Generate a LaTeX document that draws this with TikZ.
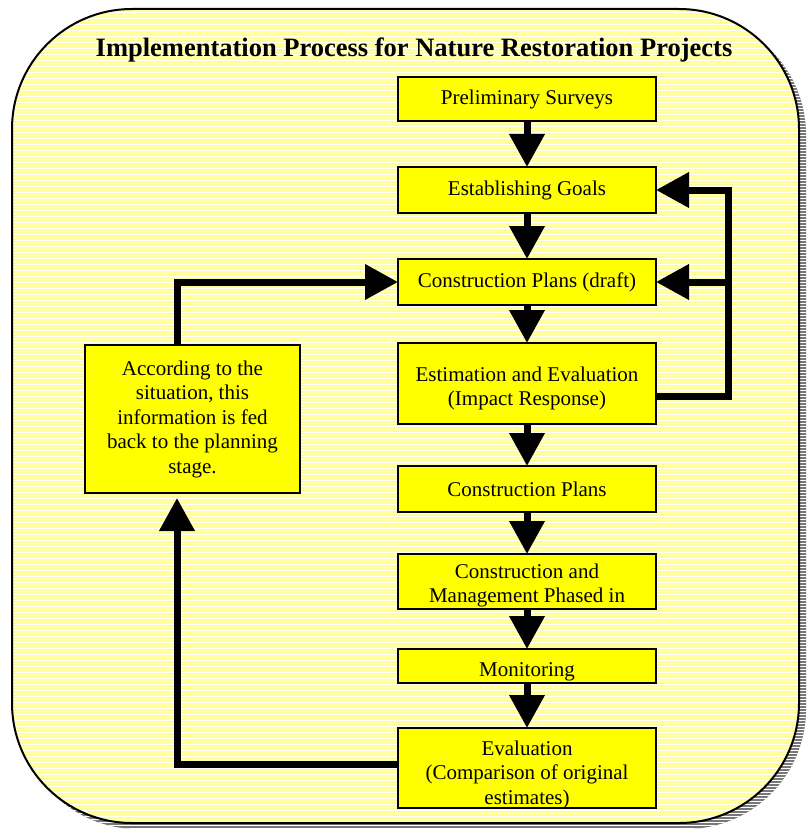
\documentclass[tikz,border=0pt]{standalone}
\usepackage{fontspec}
\setmainfont{Liberation Serif}
\usetikzlibrary{arrows.meta,patterns}
\definecolor{stageyellow}{RGB}{255,255,0}
\definecolor{paneyellow}{RGB}{255,255,150}
\definecolor{panegray}{RGB}{120,120,120}
\newcommand{\lowered}[2]{\raisebox{-#1}[\height][\depth]{\begin{tabular}{@{}c@{}}#2\end{tabular}}}

\begin{document}
\begin{tikzpicture}[x=1pt, y=-1pt,
    stage/.style={draw=black, line width=1.5pt, fill=stageyellow, inner sep=0pt, outer sep=0pt,
        minimum width=258pt, align=center, font=\fontsize{21}{24.5}\selectfont},
    flow/.style={line width=7pt, -{Triangle[length=33pt,width=34pt]}},
    stripes/.style={pattern=horizontal lines, pattern color=white}]
    \useasboundingbox (0,0) rectangle (806,829);

    % shadow
    \fill[panegray, rounded corners=120pt] (18,15) rectangle (806,829);
    \fill[stripes, rounded corners=120pt] (18,15) rectangle (806,829);

    % panel
    \fill[paneyellow, rounded corners=120pt] (12,9) rectangle (799,823);
    \fill[stripes, rounded corners=120pt] (12,9) rectangle (799,823);
    \draw[line width=2pt, rounded corners=120pt] (12,9) rectangle (799,823);

    \node[font=\fontsize{26.5}{30}\selectfont\bfseries] (title) at (414,49.5)
        {Implementation Process for Nature Restoration Projects};

    % main column
    \node[stage, minimum height=44pt] (prelim) at (527,99) {Preliminary Surveys};
    \node[stage, minimum height=46pt] (goals) at (527,190) {Establishing Goals};
    \node[stage, minimum height=46pt] (draft) at (527,282) {Construction Plans (draft)};
    \node[stage, minimum height=81pt] (estim) at (527,383.5)
        {\lowered{5pt}{Estimation and Evaluation\\(Impact Response)}};
    \node[stage, minimum height=46pt] (plans) at (527,489) {Construction Plans};
    \node[stage, minimum height=55pt] (build) at (527,581.5)
        {\lowered{4pt}{Construction and\\Management Phased in}};
    \node[stage, minimum height=34pt] (monit) at (527,666) {\lowered{6pt}{Monitoring}};
    \node[stage, minimum height=80pt] (evalu) at (527,768)
        {\lowered{7pt}{Evaluation\\(Comparison of original\\estimates)}};

    % side box
    \node[stage, minimum width=215pt, minimum height=148pt] (feedback) at (192.5,419)
        {According to the\\situation, this\\information is fed\\back to the planning\\stage.};

    \draw[flow] (prelim) -- (goals);
    \draw[flow] (goals) -- (draft);
    \draw[flow] (draft) -- (estim);
    \draw[flow] (estim) -- (plans);
    \draw[flow] (plans) -- (build);
    \draw[flow] (build) -- (monit);
    \draw[flow] (monit) -- (evalu);

    % right loop
    \coordinate (rcol) at (728,0);
    \draw[flow] ([yshift=-12.5pt]estim.east) -| (rcol |- goals.east) -- (goals.east);
    \draw[flow] (rcol |- draft.east) -- (draft.east);

    % left loop
    \coordinate (lcol) at (177,0);
    \draw[flow, shorten >=5pt] ([yshift=4pt]evalu.west) -| (lcol |- feedback.south);
    \draw[flow] (lcol |- feedback.north) |- (draft.west);
\end{tikzpicture}
\end{document}
